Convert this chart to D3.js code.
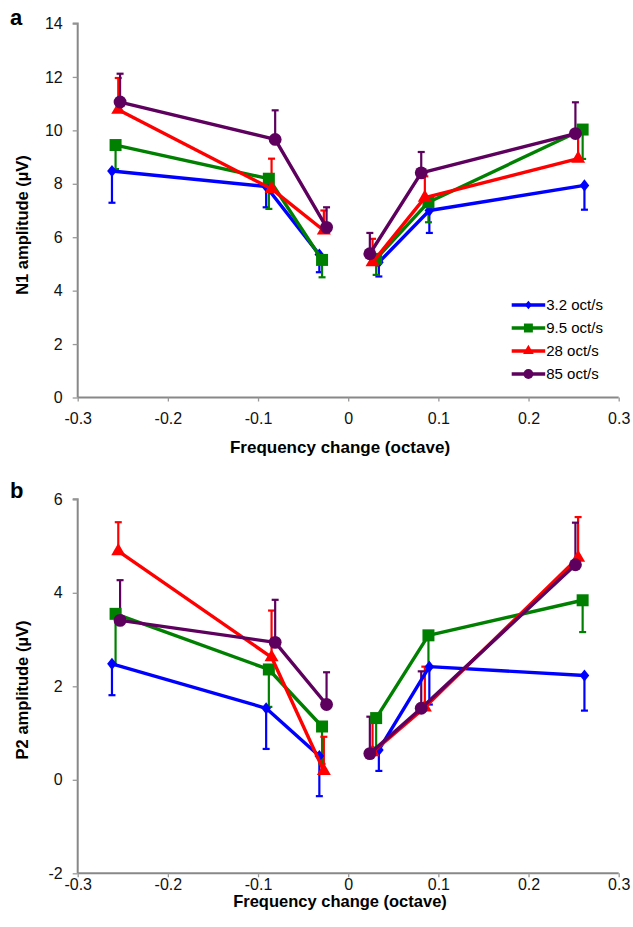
<!DOCTYPE html>
<html>
<head>
<meta charset="utf-8">
<script src="https://cdn.jsdelivr.net/npm/d3@7"></script>
<style>
  body { margin: 0; background: #fff; }
  text { font-family: "Liberation Sans", Arial, Helvetica, sans-serif; }
</style>
</head>
<body>
<div id="chart"></div>
<script>
// series labels and frequency offsets (each series slightly shifted on x)
const speeds = ["3.2 oct/s", "9.5 oct/s", "28 oct/s", "85 oct/s"];
const xTicks = [-0.3, -0.2, -0.1, 0, 0.1, 0.2, 0.3];
const x32 = [-0.262, -0.091, -0.032, 0.034, 0.090, 0.262];
const x95 = [-0.258, -0.088, -0.029, 0.031, 0.089, 0.260];
const x28 = [-0.255, -0.085, -0.027, 0.027, 0.085, 0.255];
const x85 = [-0.253, -0.081, -0.024, 0.024, 0.081, 0.252];

// panel a: N1 amplitude
const n1Ticks = [0, 2, 4, 6, 8, 10, 12, 14];
const n1_32 = [8.48, 7.90, 5.35, 5.06, 7.00, 7.94];
const n1_95 = [9.45, 8.19, 5.15, 5.19, 7.31, 10.03];
const n1_28 = [10.77, 7.81, 6.25, 5.06, 7.48, 8.94];
const n1_85 = [11.06, 9.66, 6.37, 5.38, 8.41, 9.88];
const n1Err32 = [1.19, 0.78, 0.66, 0.53, 0.84, 0.91];
const n1Err95 = [0.90, 1.13, 0.65, 0.60, 0.75, 1.10];
const n1Err28 = [1.19, 1.13, 0.75, 0.88, 0.80, 1.00];
const n1Err85 = [1.06, 1.09, 0.75, 0.78, 0.78, 1.17];

// panel b: P2 amplitude
const p2Ticks = [-2, 0, 2, 4, 6];
const p2_32 = [2.48, 1.53, 0.51, 0.64, 2.42, 2.23];
const p2_95 = [3.55, 2.36, 1.14, 1.32, 3.09, 3.84];
const p2_28 = [4.89, 2.62, 0.19, 0.59, 1.55, 4.75];
const p2_85 = [3.41, 2.94, 1.61, 0.56, 1.53, 4.60];
const p2Err32 = [0.67, 0.87, 0.86, 0.45, 0.81, 0.75];
const p2Err95 = [1.10, 0.80, 0.80, 0.63, 0.68, 0.68];
const p2Err28 = [0.62, 1.00, 0.73, 0.70, 0.87, 0.87];
const p2Err85 = [0.86, 0.91, 0.69, 0.79, 0.79, 0.90];

const colors = ["#0000ff", "#008000", "#ff0000", "#5e005e"];
const errDir = [-1, -1, 1, 1];   // blue/green bars go down, red/purple go up

// diamond a bit wider than d3's default one
const diamond = {
  draw(ctx, size) {
    const ry = Math.sqrt(size / 1.6), rx = ry * 0.8;
    ctx.moveTo(0, -ry); ctx.lineTo(rx, 0); ctx.lineTo(0, ry); ctx.lineTo(-rx, 0); ctx.closePath();
  }
};
const symTypes = [diamond, d3.symbolSquare, d3.symbolTriangle, d3.symbolCircle];
const symSizes = [58, 144, 85, 130];
const legSizes = [30, 80, 50, 75];

const width = 633, height = 927;
const svg = d3.select("#chart").append("svg")
  .attr("width", width)
  .attr("height", height);

const x = d3.scaleLinear().domain([-0.3, 0.3]).range([77.7, 618.7]);
const fmt = d => String(+d.toFixed(1));

function panel(opt) {
  const y = d3.scaleLinear().domain(opt.domain).range(opt.range);
  const g = svg.append("g");

  // y axis
  const ya = g.append("g")
    .attr("transform", `translate(${x(-0.3)},0)`)
    .call(d3.axisLeft(y).tickValues(opt.ticks).tickSize(5).tickPadding(10).tickFormat(d => d));
  // x axis along the bottom value
  const xa = g.append("g")
    .attr("transform", `translate(0,${y(opt.domain[0])})`)
    .call(d3.axisBottom(x).tickValues(xTicks).tickSize(4).tickPadding(opt.xPad).tickFormat(fmt));
  [ya, xa].forEach(a => {
    a.select(".domain").attr("stroke", "#888").attr("stroke-width", 2);
    a.selectAll(".tick line").attr("stroke", "#999").attr("stroke-width", 1.3);
    a.selectAll("text").attr("font-size", 16).attr("fill", "#111")
      .style("font-family", "'Liberation Sans', Arial, sans-serif");
  });
  ya.select(".domain").attr("d", `M0,${y(opt.domain[0])}V${y(opt.domain[1])}H-5`);
  xa.select(".domain").attr("d", `M${x(-0.3)},0H${x(0.3)}`);

  g.append("text")
    .attr("x", 340).attr("y", opt.titleY)
    .attr("text-anchor", "middle").attr("font-weight", "bold").attr("font-size", opt.titleSize)
    .text("Frequency change (octave)");
  g.append("text")
    .attr("transform", `translate(28,${opt.labelY}) rotate(-90)`)
    .attr("text-anchor", "middle").attr("font-weight", "bold").attr("font-size", 16.5)
    .text(opt.ylabel);
  g.append("text")
    .attr("x", 10).attr("y", opt.letterY)
    .attr("font-weight", "bold").attr("font-size", 22)
    .text(opt.letter);

  const series = opt.vals.map((v, s) => v.map((val, i) => ({
    x: opt.xs[s][i], y: val, e: opt.errs[s][i], s: s, side: i < 3 ? 0 : 1
  })));

  // error bars
  series.forEach((pts, s) => {
    const eb = g.append("g").attr("stroke", colors[s]).attr("stroke-width", 2.2);
    eb.selectAll("line.bar").data(pts).join("line")
      .attr("x1", d => x(d.x)).attr("x2", d => x(d.x))
      .attr("y1", d => y(d.y)).attr("y2", d => y(d.y + errDir[s] * d.e));
    eb.selectAll("line.cap").data(pts).join("line")
      .attr("x1", d => x(d.x) - 3.5).attr("x2", d => x(d.x) + 3.5)
      .attr("y1", d => y(d.y + errDir[s] * d.e)).attr("y2", d => y(d.y + errDir[s] * d.e));
  });

  const line = d3.line().x(d => x(d.x)).y(d => y(d.y));
  series.forEach((pts, s) => {
    const lg = g.append("g");
    [0, 1].forEach(side => {
      lg.append("path")
        .attr("d", line(pts.filter(d => d.side === side)))
        .attr("fill", "none").attr("stroke", colors[s])
        .attr("stroke-width", 3.4).attr("stroke-linejoin", "round");
    });
    lg.selectAll("path.m").data(pts).join("path")
      .attr("class", "m")
      .attr("transform", d => `translate(${x(d.x)},${y(d.y)})`)
      .attr("d", d3.symbol().type(symTypes[s]).size(symSizes[s]))
      .attr("fill", colors[s]);
  });

  if (opt.legend) {
    const lg = g.append("g").selectAll("g").data(speeds).join("g")
      .attr("transform", (d, i) => `translate(511.7,${305 + i * 23})`);
    lg.append("line").attr("x1", 0).attr("x2", 33.5)
      .attr("stroke", (d, i) => colors[i]).attr("stroke-width", 3.4);
    lg.append("path")
      .attr("transform", "translate(16.7,0)")
      .attr("d", (d, i) => d3.symbol().type(symTypes[i]).size(legSizes[i])())
      .attr("fill", (d, i) => colors[i]);
    lg.append("text").attr("x", 34.5).attr("dy", "0.36em")
      .attr("font-size", 15).text(d => d);
  }
}

panel({
  domain: [0, 14], range: [397.5, 23.5], ticks: n1Ticks,
  vals: [n1_32, n1_95, n1_28, n1_85],
  errs: [n1Err32, n1Err95, n1Err28, n1Err85],
  xs: [x32, x95, x28, x85],
  xPad: 11, titleY: 453, titleSize: 17, labelY: 225, ylabel: "N1 amplitude (\u00b5V)",
  letter: "a", letterY: 25, legend: true
});

panel({
  domain: [-2, 6], range: [873.3, 499.3], ticks: p2Ticks,
  vals: [p2_32, p2_95, p2_28, p2_85],
  errs: [p2Err32, p2Err95, p2Err28, p2Err85],
  xs: [x32, x95, x28, x85],
  xPad: 1, titleY: 907, titleSize: 16.5, labelY: 690, ylabel: "P2 amplitude (\u00b5V)",
  letter: "b", letterY: 498, legend: false
});
</script>
</body>
</html>
